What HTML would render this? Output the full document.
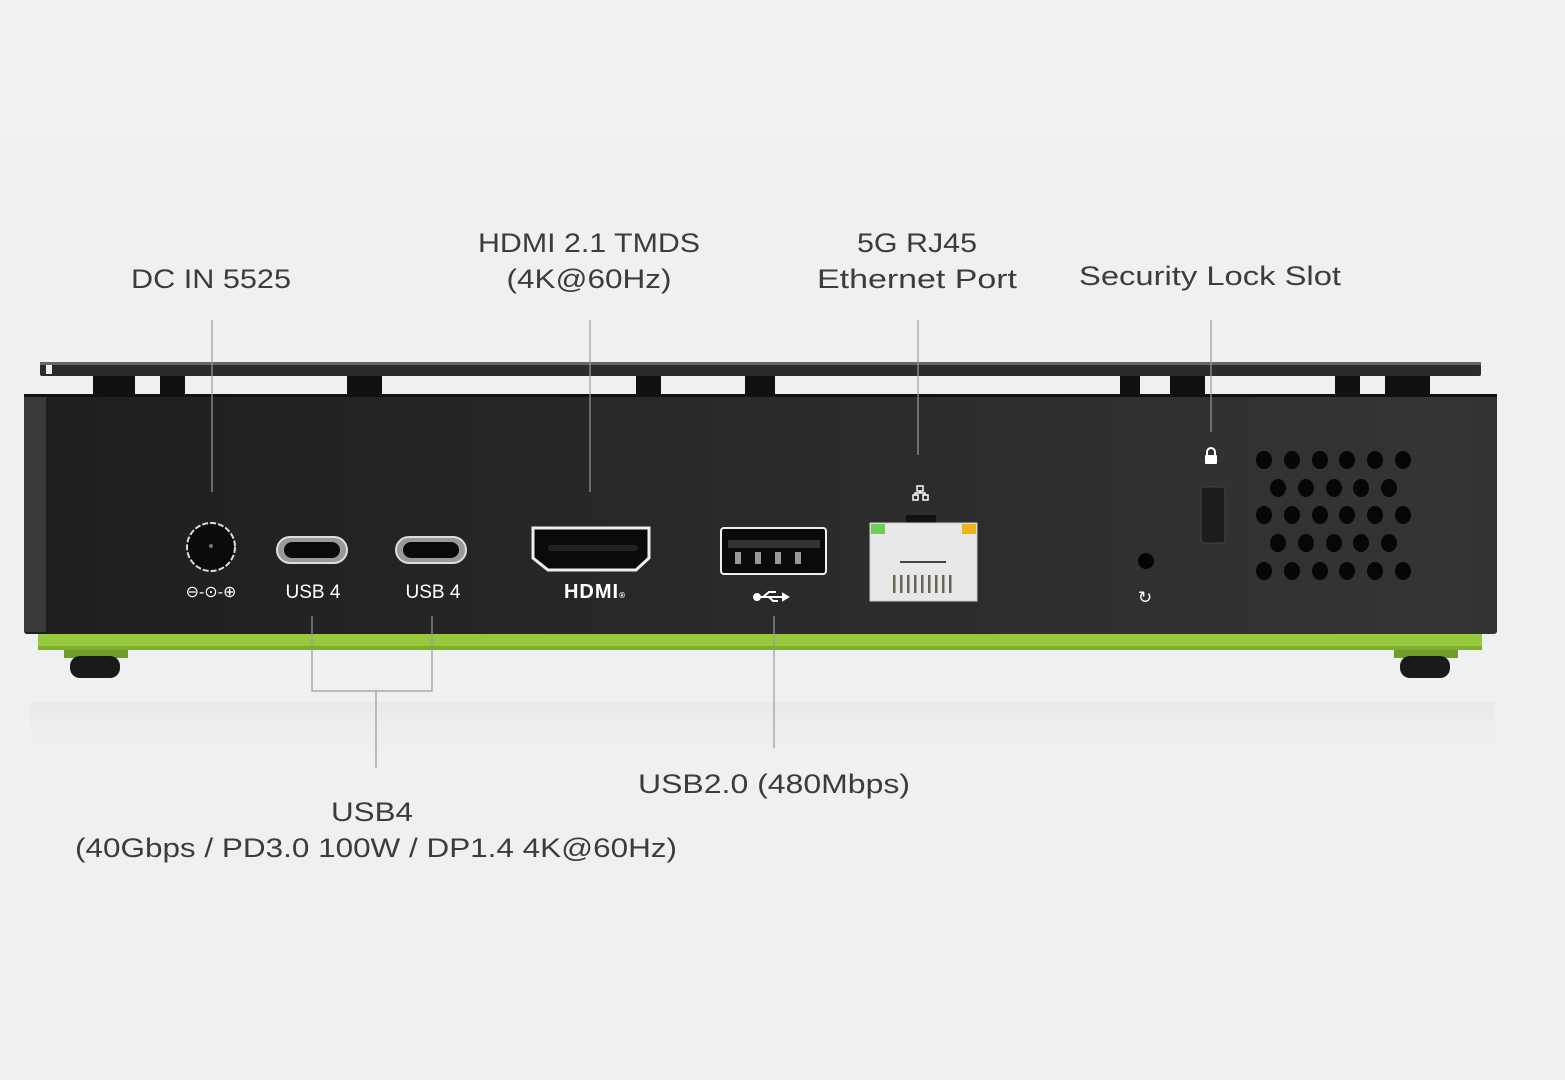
<!DOCTYPE html>
<html><head><meta charset="utf-8"><style>
html,body{margin:0;padding:0;background:#eff0f2;}
svg{display:block}
text{font-family:"Liberation Sans",sans-serif;}
</style></head><body>
<svg width="1565" height="1080" viewBox="0 0 1565 1080" xmlns="http://www.w3.org/2000/svg">
<defs>
<linearGradient id="bg" x1="0" y1="0" x2="0" y2="1"><stop offset="0" stop-color="#f1f1f3"/><stop offset="1" stop-color="#eeeff1"/></linearGradient>
<linearGradient id="body" x1="0" y1="0" x2="1" y2="0"><stop offset="0" stop-color="#1e1e1e"/><stop offset="0.5" stop-color="#2a2a2a"/><stop offset="1" stop-color="#353535"/></linearGradient>
<linearGradient id="refl" x1="0" y1="0" x2="0" y2="1"><stop offset="0" stop-color="#e8e9eb"/><stop offset="1" stop-color="#eff0f2" stop-opacity="0"/></linearGradient>
</defs>
<rect width="1565" height="1080" fill="url(#bg)"/>
<rect x="30" y="702" width="1465" height="60" fill="url(#refl)"/>
<rect x="40" y="362" width="1441" height="14" rx="2" fill="#2b2b2b"/>
<rect x="40" y="362" width="1441" height="3" fill="#666"/>
<rect x="46" y="365" width="6" height="9" fill="#eee"/>
<g fill="#111">
<rect x="93" y="376" width="42" height="18"/><rect x="160" y="376" width="25" height="18"/>
<rect x="347" y="376" width="35" height="18"/><rect x="636" y="376" width="25" height="18"/>
<rect x="745" y="376" width="30" height="18"/><rect x="1120" y="376" width="20" height="18"/>
<rect x="1170" y="376" width="35" height="18"/><rect x="1335" y="376" width="25" height="18"/>
<rect x="1385" y="376" width="45" height="18"/>
</g>
<rect x="24" y="394" width="1473" height="240" rx="3" fill="url(#body)"/>
<rect x="24" y="396" width="22" height="236" fill="#3a3a3a"/>
<rect x="1466" y="396" width="31" height="236" fill="#333"/>
<rect x="24" y="394" width="1473" height="3" fill="#111"/>
<rect x="38" y="634" width="1444" height="16" fill="#97c93d"/>
<rect x="38" y="646" width="1444" height="4" fill="#7fae2e"/>
<rect x="64" y="650" width="64" height="8" fill="#6f9e2a"/>
<rect x="70" y="656" width="50" height="22" rx="10" fill="#1a1a1a"/>
<rect x="1394" y="650" width="64" height="8" fill="#6f9e2a"/>
<rect x="1400" y="656" width="50" height="22" rx="10" fill="#1a1a1a"/>
<circle cx="211" cy="547" r="24" fill="#0b0b0b" stroke="#ddd" stroke-width="2" stroke-dasharray="6 2"/>
<circle cx="211" cy="546" r="2" fill="#777"/>
<text x="211" y="597" fill="#fff" font-size="16" text-anchor="middle">⊖-⊙-⊕</text>
<rect x="277" y="537" width="70" height="26" rx="13" fill="#999" stroke="#ddd" stroke-width="2"/>
<rect x="284" y="542" width="56" height="16" rx="8" fill="#0a0a0a"/>
<rect x="396" y="537" width="70" height="26" rx="13" fill="#999" stroke="#ddd" stroke-width="2"/>
<rect x="403" y="542" width="56" height="16" rx="8" fill="#0a0a0a"/>
<text x="313" y="598" fill="#fff" font-size="19" text-anchor="middle">USB 4</text>
<text x="433" y="598" fill="#fff" font-size="19" text-anchor="middle">USB 4</text>
<path d="M533 528 H649 V558 L636 570 H548 L533 558 Z" fill="#0a0a0a" stroke="#eee" stroke-width="3"/>
<rect x="548" y="545" width="90" height="6" rx="3" fill="#222"/>
<text x="595" y="598" fill="#fff" font-size="20" font-weight="bold" text-anchor="middle" letter-spacing="1">HDMI<tspan font-size="8">®</tspan></text>
<rect x="721" y="528" width="105" height="46" rx="3" fill="#0a0a0a" stroke="#eee" stroke-width="2"/>
<rect x="728" y="540" width="92" height="8" fill="#333"/>
<g fill="#999"><rect x="735" y="552" width="6" height="12"/><rect x="755" y="552" width="6" height="12"/><rect x="775" y="552" width="6" height="12"/><rect x="795" y="552" width="6" height="12"/></g>
<g stroke="#fff" stroke-width="2" fill="#fff"><path d="M757 597H783" /><path d="M763 597L769 592H776M769 597L773 601H778" fill="none"/><circle cx="757" cy="597" r="3"/><path d="M783 594L788 597L783 600Z"/></g>
<rect x="906" y="515" width="30" height="10" fill="#111"/>
<rect x="870" y="523" width="107" height="78" fill="#e8e8e8" stroke="#ccc"/>
<rect x="871" y="524" width="14" height="10" fill="#6fcf55"/>
<rect x="962" y="524" width="14" height="10" fill="#e8b61c"/>
<rect x="900" y="561" width="46" height="2" fill="#444"/>
<g fill="#6a6456"><rect x="893" y="575" width="2.5" height="18"/><rect x="900" y="575" width="2.5" height="18"/><rect x="907" y="575" width="2.5" height="18"/><rect x="914" y="575" width="2.5" height="18"/><rect x="921" y="575" width="2.5" height="18"/><rect x="928" y="575" width="2.5" height="18"/><rect x="935" y="575" width="2.5" height="18"/><rect x="942" y="575" width="2.5" height="18"/><rect x="949" y="575" width="2.5" height="18"/></g>
<g fill="none" stroke="#fff" stroke-width="1.5"><rect x="917" y="486" width="6" height="5"/><rect x="913" y="495" width="5" height="5"/><rect x="923" y="495" width="5" height="5"/><path d="M920 491v2M915 495v-2h10v2"/></g>
<circle cx="1146" cy="561" r="8" fill="#050505"/>
<text x="1145" y="603" fill="#fff" font-size="17" text-anchor="middle">↻</text>
<rect x="1205" y="455" width="12" height="9" rx="1" fill="#fff"/>
<path d="M1207 455v-3a4 4 0 0 1 8 0v3" fill="none" stroke="#fff" stroke-width="2"/>
<rect x="1201" y="487" width="24" height="56" rx="3" fill="#1c1c1c" stroke="#444"/>
<g fill="#070707">
<ellipse cx="1264" cy="460" rx="8" ry="9"/><ellipse cx="1292" cy="460" rx="8" ry="9"/><ellipse cx="1320" cy="460" rx="8" ry="9"/><ellipse cx="1347" cy="460" rx="8" ry="9"/><ellipse cx="1375" cy="460" rx="8" ry="9"/><ellipse cx="1403" cy="460" rx="8" ry="9"/>
<ellipse cx="1278" cy="488" rx="8" ry="9"/><ellipse cx="1306" cy="488" rx="8" ry="9"/><ellipse cx="1334" cy="488" rx="8" ry="9"/><ellipse cx="1361" cy="488" rx="8" ry="9"/><ellipse cx="1389" cy="488" rx="8" ry="9"/>
<ellipse cx="1264" cy="515" rx="8" ry="9"/><ellipse cx="1292" cy="515" rx="8" ry="9"/><ellipse cx="1320" cy="515" rx="8" ry="9"/><ellipse cx="1347" cy="515" rx="8" ry="9"/><ellipse cx="1375" cy="515" rx="8" ry="9"/><ellipse cx="1403" cy="515" rx="8" ry="9"/>
<ellipse cx="1278" cy="543" rx="8" ry="9"/><ellipse cx="1306" cy="543" rx="8" ry="9"/><ellipse cx="1334" cy="543" rx="8" ry="9"/><ellipse cx="1361" cy="543" rx="8" ry="9"/><ellipse cx="1389" cy="543" rx="8" ry="9"/>
<ellipse cx="1264" cy="571" rx="8" ry="9"/><ellipse cx="1292" cy="571" rx="8" ry="9"/><ellipse cx="1320" cy="571" rx="8" ry="9"/><ellipse cx="1347" cy="571" rx="8" ry="9"/><ellipse cx="1375" cy="571" rx="8" ry="9"/><ellipse cx="1403" cy="571" rx="8" ry="9"/>
</g>
<g stroke="#9a9a9a" stroke-width="1.2" fill="none">
<path d="M212 320V492"/><path d="M590 320V492"/><path d="M918 320V455"/><path d="M1211 320V432"/>
<path d="M312 616V691H432V616M376 691V768"/><path d="M774 616V748"/>
</g>
<g fill="#3c3c3c" font-size="27" text-anchor="middle">
<text x="211" y="288" textLength="160" lengthAdjust="spacingAndGlyphs">DC IN 5525</text>
<text x="589" y="252" textLength="222" lengthAdjust="spacingAndGlyphs">HDMI 2.1 TMDS</text>
<text x="589" y="288" textLength="165" lengthAdjust="spacingAndGlyphs">(4K@60Hz)</text>
<text x="917" y="252" textLength="120" lengthAdjust="spacingAndGlyphs">5G RJ45</text>
<text x="917" y="288" textLength="200" lengthAdjust="spacingAndGlyphs">Ethernet Port</text>
<text x="1210" y="285" textLength="262" lengthAdjust="spacingAndGlyphs">Security Lock Slot</text>
<text x="774" y="793" textLength="272" lengthAdjust="spacingAndGlyphs">USB2.0 (480Mbps)</text>
<text x="372" y="821" textLength="82" lengthAdjust="spacingAndGlyphs">USB4</text>
<text x="376" y="857" textLength="602" lengthAdjust="spacingAndGlyphs">(40Gbps / PD3.0 100W / DP1.4 4K@60Hz)</text>
</g>
</svg>
</body></html>
